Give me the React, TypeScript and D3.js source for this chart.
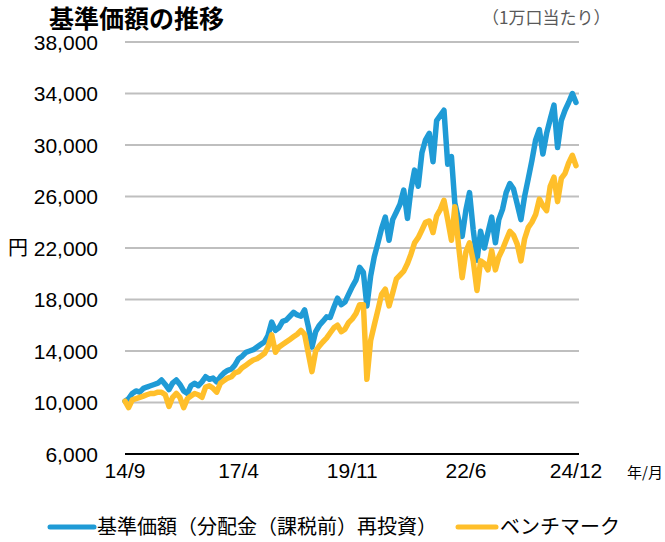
import * as d3 from "d3";

// 月次の読み取り値（2014/9〜2024/12）
const startMonth = new Date(2014, 8, 1);
const endMonth = new Date(2025, 0, 1);
const months = d3.timeMonth.range(startMonth, endMonth);

const fundValues = [
  10100, 10300, 10700, 10900, 10800, 11100, 11200, 11300, 11400, 11500,
  11750, 11400, 11000, 11500, 11750, 11400, 10900, 10700, 11300, 11500,
  11300, 11600, 12000, 11800, 11900, 11600, 12000, 12300, 12500, 12600,
  12900, 13400, 13600, 13900, 14000, 14100, 14300, 14500, 14700, 15200,
  16250, 15600, 15800, 16300, 16400, 16700, 17000, 16800, 16700, 17200,
  15900, 14300, 15500, 16000, 16300, 16650, 16600, 17400, 18100, 17600,
  17800, 18400, 19000, 19500, 20500, 20100, 17500, 19800, 21300, 22400,
  23500, 24400, 22600, 24200, 24800, 25400, 26500, 24300, 26500, 28050,
  26800, 29400, 30400, 30900, 28700, 31900, 32300, 32700, 28500, 29100,
  25500, 24200, 22900, 24950, 26300, 23400, 21050, 23300, 22000, 23200,
  24400, 22400, 24200, 25000, 26300, 27000, 26600, 25400, 24200, 26000,
  27400, 28800, 30400, 31200, 29300, 30900, 32000, 33100, 29800, 31900,
  32700, 33300, 34000, 33300,
];

const benchValues = [
  10100, 9600, 10200, 10300, 10400, 10500, 10600, 10700, 10700, 10800,
  10800, 10600, 9700, 10400, 10700, 10400, 9600, 10300, 10500, 10700,
  10600, 10400, 11200, 11300, 11100, 10800, 11500, 11700, 11900, 12000,
  12300, 12400, 12700, 12900, 13100, 13300, 13400, 13600, 13800, 14300,
  15250, 13900, 14300, 14500, 14700, 14900, 15100, 15300, 15600, 15300,
  13800, 12400, 14000, 14400, 14700, 15000, 15400, 15800, 16000, 15500,
  15700, 16200, 16500, 16900, 17600, 17600, 11800, 14800, 16000, 17200,
  18400, 18800, 17500, 18500, 19600, 19900, 20200, 20800, 21500, 22400,
  22800, 23400, 24000, 24100, 23200, 24500, 25000, 25700, 24200, 22600,
  25200, 22200, 19700, 21700, 22400, 21000, 18700, 21000, 20800, 20300,
  21800, 20300, 21300, 21900, 22600, 23300, 23000, 22300, 21000, 22700,
  23600, 24000, 24600, 25800, 25300, 24900, 26800, 27500, 25600, 27400,
  27800, 28600, 29200, 28400,
];

const yTicks = [6000, 10000, 14000, 18000, 22000, 26000, 30000, 34000, 38000];
const xTickDates = [
  new Date(2014, 8, 1),
  new Date(2017, 3, 1),
  new Date(2019, 10, 1),
  new Date(2022, 5, 1),
  new Date(2024, 11, 1),
];
const xTickLabels = ["14/9", "17/4", "19/11", "22/6", "24/12"];

const seriesNames = ["基準価額（分配金（課税前）再投資）", "ベンチマーク"];
const seriesColors = ["#1F9BD6", "#FFBF2A"];

const W = 665;
const H = 542;
const plotLeft = 125;
const plotRight = 579;
const numFont = "'Liberation Sans', Arial, sans-serif";
const jpFont = "'Noto Sans CJK JP', 'Noto Sans', sans-serif";

export default function App() {
  const x = d3
    .scaleTime()
    .domain([startMonth, new Date(2024, 11, 1)])
    .range([125, 576]);
  const y = d3.scaleLinear().domain([6000, 38000]).range([454, 42]);

  const line = d3
    .line<number>()
    .x((_, i) => x(months[i]))
    .y((d) => y(d));

  const fmt = d3.format(",");

  return (
    <svg
      width={W}
      height={H}
      style={{ position: "absolute", left: 0, top: 0, background: "#fff" }}
    >
      {/* タイトル */}
      <text x={49} y={28} fontFamily={jpFont} fontWeight="bold" fontSize={25} fill="#000">
        基準価額の推移
      </text>
      <text x={482} y={24} fontFamily={jpFont} fontSize={17} fill="#595959">
        （1万口当たり）
      </text>

      {/* グリッド */}
      {yTicks.slice(1).map((t) => (
        <line key={t} x1={plotLeft} x2={plotRight} y1={y(t)} y2={y(t)} stroke="#BFBFBF" strokeWidth={2} />
      ))}
      <line x1={plotLeft} x2={plotRight} y1={y(6000)} y2={y(6000)} stroke="#000" strokeWidth={2} />

      {/* Y軸ラベル */}
      {yTicks.map((t) => (
        <text
          key={t}
          x={98}
          y={y(t)}
          dy="0.36em"
          textAnchor="end"
          fontFamily={numFont}
          fontSize={21}
          fill="#000"
        >
          {fmt(t)}
        </text>
      ))}
      <text x={8} y={y(22000)} dy="0.36em" fontFamily={jpFont} fontSize={20} fill="#000">
        円
      </text>

      {/* X軸ラベル */}
      {xTickDates.map((d, i) => (
        <text
          key={i}
          x={x(d)}
          y={478}
          textAnchor="middle"
          fontFamily={numFont}
          fontSize={21}
          fill="#000"
        >
          {xTickLabels[i]}
        </text>
      ))}
      <text x={627} y={478} fontFamily={jpFont} fontSize={15} fill="#000">
        年/月
      </text>

      {/* 系列 */}
      <path
        d={line(fundValues) ?? ""}
        fill="none"
        stroke={seriesColors[0]}
        strokeWidth={5.5}
        strokeLinejoin="round"
        strokeLinecap="round"
      />
      <path
        d={line(benchValues) ?? ""}
        fill="none"
        stroke={seriesColors[1]}
        strokeWidth={5.5}
        strokeLinejoin="round"
        strokeLinecap="round"
      />

      {/* 凡例 */}
      <line x1={50} x2={94} y1={527} y2={527} stroke={seriesColors[0]} strokeWidth={5} strokeLinecap="round" />
      <text x={97} y={534} fontFamily={jpFont} fontSize={20} fill="#000">
        {seriesNames[0]}
      </text>
      <line x1={458} x2={496} y1={527} y2={527} stroke={seriesColors[1]} strokeWidth={5} strokeLinecap="round" />
      <text x={500} y={534} fontFamily={jpFont} fontSize={20} fill="#000">
        {seriesNames[1]}
      </text>
    </svg>
  );
}
